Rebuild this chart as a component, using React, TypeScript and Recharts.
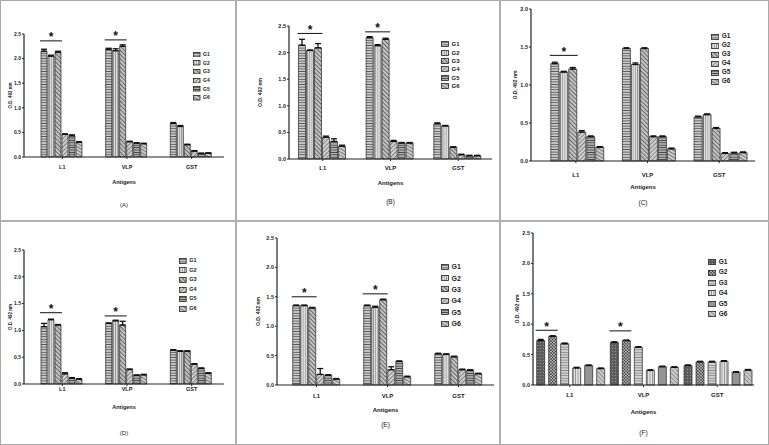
import React from "react";
import { BarChart, Bar, XAxis, YAxis, Legend, ErrorBar } from "recharts";

const categories = ["L1", "VLP", "GST"];
const groups = ["G1", "G2", "G3", "G4", "G5", "G6"];
const ticks25 = [0, 0.5, 1, 1.5, 2, 2.5];
const ticks20 = [0, 0.5, 1, 1.5, 2];

// rows: L1, VLP, GST ; columns: G1..G6
const valuesA = [
  [2.15, 2.05, 2.13, 0.46, 0.43, 0.3],
  [2.19, 2.16, 2.25, 0.31, 0.28, 0.27],
  [0.68, 0.62, 0.25, 0.12, 0.07, 0.075],
];
const errorsA = [
  [0.04, 0.02, 0.02, 0.01, 0.02, 0.01],
  [0.02, 0.04, 0.03, 0.01, 0.01, 0.01],
  [0.02, 0.02, 0.01, 0.01, 0.01, 0.01],
];
const starsA = [2.36, 2.38, null];

const valuesB = [
  [2.14, 2.04, 2.09, 0.41, 0.33, 0.24],
  [2.28, 2.13, 2.25, 0.33, 0.3, 0.3],
  [0.66, 0.62, 0.22, 0.08, 0.06, 0.06],
];
const errorsB = [
  [0.11, 0.01, 0.08, 0.02, 0.05, 0.02],
  [0.02, 0.02, 0.02, 0.02, 0.01, 0.01],
  [0.02, 0.01, 0.01, 0.01, 0.01, 0.01],
];
const starsB = [2.36, 2.39, null];

const valuesC = [
  [1.28, 1.17, 1.21, 0.38, 0.32, 0.18],
  [1.48, 1.27, 1.48, 0.32, 0.32, 0.16],
  [0.58, 0.61, 0.43, 0.1, 0.105, 0.11],
];
const errorsC = [
  [0.02, 0.01, 0.02, 0.02, 0.01, 0.01],
  [0.01, 0.02, 0.01, 0.01, 0.01, 0.01],
  [0.01, 0.01, 0.01, 0.01, 0.01, 0.01],
];
const starsC = [1.39, null, null];

const valuesD = [
  [1.07, 1.2, 1.1, 0.19, 0.11, 0.09],
  [1.13, 1.18, 1.1, 0.27, 0.16, 0.17],
  [0.63, 0.61, 0.61, 0.37, 0.29, 0.2],
];
const errorsD = [
  [0.06, 0.01, 0.01, 0.02, 0.01, 0.01],
  [0.01, 0.01, 0.07, 0.01, 0.01, 0.01],
  [0.01, 0.01, 0.01, 0.01, 0.01, 0.01],
];
const starsD = [1.33, 1.27, null];

const valuesE = [
  [1.35, 1.35, 1.31, 0.18, 0.165, 0.1],
  [1.35, 1.32, 1.45, 0.26, 0.4, 0.14],
  [0.53, 0.52, 0.48, 0.26, 0.25, 0.19],
];
const errorsE = [
  [0.01, 0.01, 0.01, 0.1, 0.01, 0.01],
  [0.01, 0.02, 0.01, 0.05, 0.01, 0.01],
  [0.01, 0.01, 0.01, 0.01, 0.01, 0.01],
];
const starsE = [1.5, 1.55, null];

const valuesF = [
  [0.73, 0.8, 0.68, 0.28, 0.32, 0.27],
  [0.7, 0.73, 0.62, 0.24, 0.3, 0.29],
  [0.32, 0.38, 0.38, 0.39, 0.21, 0.245],
];
const errorsF = [
  [0.02, 0.01, 0.01, 0.01, 0.01, 0.01],
  [0.01, 0.01, 0.01, 0.01, 0.01, 0.01],
  [0.01, 0.01, 0.01, 0.01, 0.01, 0.01],
];
const starsF = [0.9, 0.89, null];

const font = "'Liberation Sans', Arial, sans-serif";
const ink = "#1a1a1a";

const panels = [
  { key: "A", letter: "(A)", values: valuesA, errors: errorsA, stars: starsA, ticks: ticks25,
    left: 0, top: 0, w: 236, h: 221, plot: { l: 24, t: 34, b: 157, r: 224, pad: 6 },
    gap: "17%", barGap: 1, span: 3, labelX: 10, tickDy: 9.5, antDy: 24.5, letterDy: 48,
    fs: 5.5, legend: { x: 193, y: 50, dy: 8.7, fs: 5, sw: 6.5, sh: 4.5 }, pat: "std" },
  { key: "B", letter: "(B)", values: valuesB, errors: errorsB, stars: starsB, ticks: ticks25,
    left: 236, top: 0, w: 264, h: 221, plot: { l: 53, t: 26, b: 159, r: 256, pad: 0 },
    gap: "14%", barGap: 1, span: 3, labelX: 24, tickDy: 9, antDy: 24, letterDy: 42.5,
    fs: 6, legend: { x: 205, y: 40, dy: 8.4, fs: 6, sw: 7, sh: 5 }, pat: "std" },
  { key: "C", letter: "(C)", values: valuesC, errors: errorsC, stars: starsC, ticks: ticks20,
    left: 500, top: 0, w: 269, h: 221, plot: { l: 31, t: 9, b: 161, r: 255, pad: 9 },
    gap: "15%", barGap: 1, span: 3, labelX: 15, tickDy: 14, antDy: 26, letterDy: 41,
    fs: 6, legend: { x: 211, y: 32, dy: 9, fs: 6.5, sw: 7.3, sh: 5 }, pat: "std" },
  { key: "D", letter: "(D)", values: valuesD, errors: errorsD, stars: starsD, ticks: ticks25,
    left: 0, top: 221, w: 236, h: 224, plot: { l: 24, t: 29, b: 163, r: 224, pad: 6 },
    gap: "17%", barGap: 1, span: 3, labelX: 10, tickDy: 5, antDy: 23, letterDy: 49,
    fs: 5.5, legend: { x: 179, y: 35, dy: 9.6, fs: 5.5, sw: 6.7, sh: 5 }, pat: "std" },
  { key: "E", letter: "(E)", values: valuesE, errors: errorsE, stars: starsE, ticks: ticks25,
    left: 236, top: 221, w: 264, h: 224, plot: { l: 41, t: 17, b: 164, r: 258, pad: 4 },
    gap: "16.5%", barGap: 1, span: 3, labelX: 22, tickDy: 11, antDy: 25, letterDy: 39,
    fs: 6, legend: { x: 205, y: 40, dy: 11.4, fs: 7, sw: 7, sh: 5 }, pat: "std" },
  { key: "F", letter: "(F)", values: valuesF, errors: errorsF, stars: starsF, ticks: ticks25,
    left: 500, top: 221, w: 269, h: 224, plot: { l: 33, t: 12, b: 164, r: 254, pad: 0 },
    gap: "5%", barGap: 4, span: 2, labelX: 17, tickDy: 10.3, antDy: 27, letterDy: 47.7,
    fs: 6, legend: { x: 208, y: 36, dy: 10.4, fs: 6.5, sw: 7.3, sh: 5 }, pat: "alt" },
];

function StdPatterns({ id }: { id: string }) {
  return (
    <defs>
      <pattern id={`${id}-p0`} width="4" height="2.6" patternUnits="userSpaceOnUse">
        <rect width="4" height="2.6" fill="#cbcbcb" />
        <line x1="0" y1="1.3" x2="4" y2="1.3" stroke="#444" strokeWidth="0.8" />
      </pattern>
      <pattern id={`${id}-p1`} width="2.2" height="4" patternUnits="userSpaceOnUse">
        <rect width="2.2" height="4" fill="#dedede" />
        <line x1="1.1" y1="0" x2="1.1" y2="4" stroke="#858585" strokeWidth="0.7" />
      </pattern>
      <pattern id={`${id}-p2`} width="3" height="3" patternUnits="userSpaceOnUse" patternTransform="rotate(45)">
        <rect width="3" height="3" fill="#c4c4c4" />
        <line x1="0" y1="1.5" x2="3" y2="1.5" stroke="#505050" strokeWidth="0.8" />
      </pattern>
      <pattern id={`${id}-p3`} width="3" height="3" patternUnits="userSpaceOnUse" patternTransform="rotate(-45)">
        <rect width="3" height="3" fill="#d2d2d2" />
        <line x1="0" y1="1.5" x2="3" y2="1.5" stroke="#626262" strokeWidth="0.7" />
      </pattern>
      <pattern id={`${id}-p4`} width="4" height="2.4" patternUnits="userSpaceOnUse">
        <rect width="4" height="2.4" fill="#bababa" />
        <line x1="0" y1="1.2" x2="4" y2="1.2" stroke="#3a3a3a" strokeWidth="0.9" />
      </pattern>
      <pattern id={`${id}-p5`} width="3" height="3" patternUnits="userSpaceOnUse" patternTransform="rotate(30)">
        <rect width="3" height="3" fill="#cbcbcb" />
        <line x1="0" y1="1.5" x2="3" y2="1.5" stroke="#575757" strokeWidth="0.7" />
      </pattern>
    </defs>
  );
}

function AltPatterns({ id }: { id: string }) {
  return (
    <defs>
      <pattern id={`${id}-p0`} width="3" height="3" patternUnits="userSpaceOnUse">
        <rect width="3" height="3" fill="#5c5c5c" />
        <circle cx="1.5" cy="1.5" r="0.6" fill="#a0a0a0" />
      </pattern>
      <pattern id={`${id}-p1`} width="3" height="3" patternUnits="userSpaceOnUse">
        <rect width="3" height="3" fill="#eeeeee" />
        <circle cx="0" cy="0" r="0.9" fill="#333" />
        <circle cx="3" cy="0" r="0.9" fill="#333" />
        <circle cx="0" cy="3" r="0.9" fill="#333" />
        <circle cx="3" cy="3" r="0.9" fill="#333" />
        <circle cx="1.5" cy="1.5" r="0.9" fill="#333" />
      </pattern>
      <pattern id={`${id}-p2`} width="4" height="2.6" patternUnits="userSpaceOnUse">
        <rect width="4" height="2.6" fill="#d4d4d4" />
        <line x1="0" y1="1.3" x2="4" y2="1.3" stroke="#6a6a6a" strokeWidth="0.7" />
      </pattern>
      <pattern id={`${id}-p3`} width="2.4" height="4" patternUnits="userSpaceOnUse">
        <rect width="2.4" height="4" fill="#e4e4e4" />
        <line x1="1.2" y1="0" x2="1.2" y2="4" stroke="#808080" strokeWidth="0.8" />
      </pattern>
      <pattern id={`${id}-p4`} width="4" height="2" patternUnits="userSpaceOnUse">
        <rect width="4" height="2" fill="#b8b8b8" />
        <line x1="0" y1="1" x2="4" y2="1" stroke="#505050" strokeWidth="0.7" />
      </pattern>
      <pattern id={`${id}-p5`} width="3" height="3" patternUnits="userSpaceOnUse" patternTransform="rotate(45)">
        <rect width="3" height="3" fill="#cccccc" />
        <line x1="0" y1="1.5" x2="3" y2="1.5" stroke="#777" strokeWidth="0.7" />
      </pattern>
    </defs>
  );
}

function makeStarLabel(cfg: any) {
  return (props: any) => {
    const level = cfg.stars[props.index];
    if (level == null) return null;
    const vb = props.viewBox ?? props;
    const x = Number(vb.x);
    const y = Number(vb.y);
    const w = Number(vb.width);
    const h = Number(vb.height);
    const v = Number(props.value);
    if (!v || !isFinite(h)) return null;
    const ly = y + h - (level * h) / v;
    const x2 = x + cfg.span * w + (cfg.span - 1) * cfg.barGap;
    return (
      <g key={`star-${props.index}`}>
        <line x1={x - 1} x2={x2 + 1} y1={ly} y2={ly} stroke="#111" strokeWidth={1} />
        <text x={(x + x2) / 2} y={ly + 0.5} textAnchor="middle" fontSize={12} fontWeight="bold" fill="#111" fontFamily={font}>
          *
        </text>
      </g>
    );
  };
}

function Panel({ cfg }: { cfg: any }) {
  const data = categories.map((c, i) => {
    const row: any = { name: c };
    groups.forEach((g, j) => {
      row[g] = cfg.values[i][j];
      row[g + "e"] = [0, cfg.errors[i][j]];
    });
    return row;
  });
  const p = cfg.plot;
  const yAxisW = 14;
  const xAxisH = 20;
  const margin = { top: p.t, left: p.l - yAxisW, right: cfg.w - p.r, bottom: cfg.h - p.b - xAxisH };
  const lg = cfg.legend;
  const starLabel = makeStarLabel(cfg);

  return (
    <div style={{ position: "absolute", left: cfg.left, top: cfg.top, width: cfg.w, height: cfg.h }}>
      <BarChart width={cfg.w} height={cfg.h} data={data} margin={margin} barCategoryGap={cfg.gap} barGap={cfg.barGap}>
        {cfg.pat === "alt" ? <AltPatterns id={cfg.key} /> : <StdPatterns id={cfg.key} />}
        <XAxis
          dataKey="name"
          height={xAxisH}
          padding={{ left: p.pad, right: 0 }}
          axisLine={{ stroke: "#222", strokeWidth: 1.2 }}
          tickLine={{ stroke: "#222" }}
          tickSize={2}
          tick={(t: any) => (
            <text x={t.x} y={p.b + cfg.tickDy} textAnchor="middle" dominantBaseline="central" fontSize={cfg.fs} fontWeight="bold" fill={ink} fontFamily={font}>
              {t.payload.value}
            </text>
          )}
          label={(l: any) => {
            const vb = l.viewBox ?? {};
            const cx = Number(vb.x) + Number(vb.width) / 2;
            return (
              <g>
                <text x={cx} y={p.b + cfg.antDy} textAnchor="middle" dominantBaseline="central" fontSize={cfg.fs} fontWeight="bold" fill={ink} fontFamily={font}>
                  Antigens
                </text>
                <text x={cx} y={p.b + cfg.letterDy} textAnchor="middle" dominantBaseline="central" fontSize={cfg.fs + 0.5} fill={ink} fontFamily={font}>
                  {cfg.letter}
                </text>
              </g>
            );
          }}
        />
        <YAxis
          width={yAxisW}
          domain={[0, cfg.ticks[cfg.ticks.length - 1]]}
          ticks={cfg.ticks}
          interval={0}
          tickFormatter={(v: number) => v.toFixed(1)}
          axisLine={{ stroke: "#222", strokeWidth: 1.2 }}
          tickLine={{ stroke: "#222" }}
          tickSize={2}
          tickMargin={1}
          tick={{ fontSize: cfg.fs - 0.5, fontWeight: "bold", fill: ink, fontFamily: font }}
          label={() => (
            <text
              x={cfg.labelX}
              y={(p.t + p.b) / 2}
              transform={`rotate(-90 ${cfg.labelX} ${(p.t + p.b) / 2})`}
              textAnchor="middle"
              dominantBaseline="central"
              fontSize={cfg.fs - 1}
              fontWeight="bold"
              fill={ink}
              fontFamily={font}
            >
              O.D. 492 nm
            </text>
          )}
        />
        <Legend
          layout="horizontal"
          verticalAlign="middle"
          align="center"
          wrapperStyle={{ left: lg.x, top: lg.y, width: "auto", height: "auto" }}
          content={(lp: any) => (
            <div style={{ fontFamily: font }}>
              {(lp.payload ?? []).map((entry: any) => {
                const j = groups.indexOf(String(entry.dataKey ?? entry.value));
                return (
                  <div key={entry.value} style={{ display: "flex", alignItems: "center", height: lg.dy }}>
                    <svg width={lg.sw + 1} height={lg.sh + 1} style={{ display: "block" }}>
                      <rect x={0.5} y={0.5} width={lg.sw} height={lg.sh} fill={`url(#${cfg.key}-p${j})`} stroke="#222" strokeWidth={0.8} />
                    </svg>
                    <span style={{ fontSize: lg.fs, fontWeight: "bold", color: ink, marginLeft: 2.5, lineHeight: 1 }}>
                      {entry.value}
                    </span>
                  </div>
                );
              })}
            </div>
          )}
        />
        {groups.map((g, j) => (
          <Bar
            key={g}
            dataKey={g}
            name={g}
            fill={`url(#${cfg.key}-p${j})`}
            stroke="#222"
            strokeWidth={0.7}
            isAnimationActive={false}
            label={j === 0 ? starLabel : undefined}
          >
            <ErrorBar dataKey={g + "e"} direction="y" width={3} stroke="#111" strokeWidth={1.3} />
          </Bar>
        ))}
      </BarChart>
    </div>
  );
}

export default function App() {
  return (
    <div style={{ position: "absolute", left: 0, top: 0, width: 769, height: 445, background: "#fff", fontFamily: font, overflow: "hidden" }}>
      {panels.map((cfg) => (
        <Panel key={cfg.key} cfg={cfg} />
      ))}
      <div style={{ position: "absolute", left: 0, top: 0, width: 769, height: 445, boxSizing: "border-box", border: "1.5px solid #a8a8a8", pointerEvents: "none" }} />
      <div style={{ position: "absolute", left: 235, top: 0, width: 2, height: 445, background: "#b0b0b0" }} />
      <div style={{ position: "absolute", left: 499, top: 0, width: 2, height: 445, background: "#b0b0b0" }} />
      <div style={{ position: "absolute", left: 0, top: 220, width: 769, height: 2, background: "#b0b0b0" }} />
    </div>
  );
}
